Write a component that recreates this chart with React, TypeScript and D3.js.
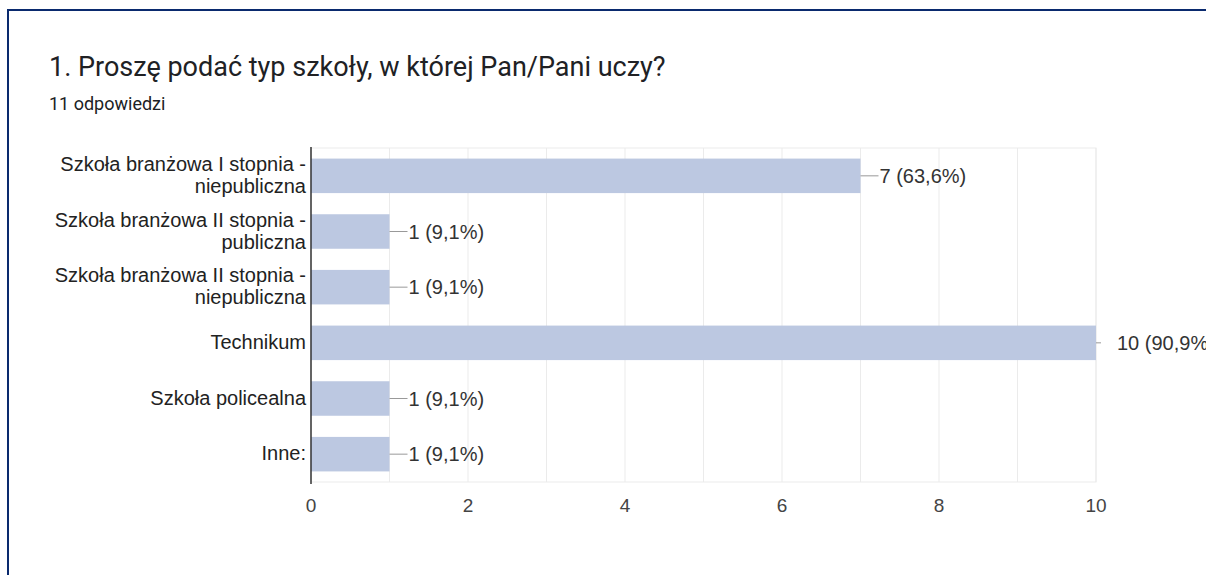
import { useEffect, useRef } from 'react'
import * as d3 from 'd3'

const categories = [
  ['Szkoła branżowa I stopnia -', 'niepubliczna'],
  ['Szkoła branżowa II stopnia -', 'publiczna'],
  ['Szkoła branżowa II stopnia -', 'niepubliczna'],
  ['Technikum'],
  ['Szkoła policealna'],
  ['Inne:'],
]
const counts = [7, 1, 1, 10, 1, 1]
const percents = ['63,6%', '9,1%', '9,1%', '90,9%', '9,1%', '9,1%']
const xTicks = [0, 2, 4, 6, 8, 10]

const W = 1206
const H = 575

export default function App() {
  const svgRef = useRef<SVGSVGElement>(null)

  useEffect(() => {
    if (!svgRef.current) return
    const svg = d3.select(svgRef.current)
    svg.selectAll('*').remove()

    const left = 311
    const right = 1096
    const top = 148
    const bottom = 482

    const x = d3.scaleLinear().domain([0, 10]).range([left, right])
    const keys = categories.map((_, i) => String(i))
    const y = d3
      .scaleBand()
      .domain(keys)
      .range([top, bottom])
      .paddingInner(0.38)
      .paddingOuter(0.19)

    // frame
    svg
      .append('rect')
      .attr('x', 8)
      .attr('y', 10)
      .attr('width', W + 20)
      .attr('height', H + 20)
      .attr('fill', 'white')
      .attr('stroke', '#0a2a6e')
      .attr('stroke-width', 2)

    // title
    svg
      .append('text')
      .attr('x', 49)
      .attr('y', 76)
      .attr('font-family', 'Roboto')
      .attr('font-size', 27)
      .attr('fill', '#202124')
      .text('1. Proszę podać typ szkoły, w której Pan/Pani uczy?')

    svg
      .append('text')
      .attr('x', 49)
      .attr('y', 110)
      .attr('font-family', 'Roboto')
      .attr('font-size', 18)
      .attr('fill', '#202124')
      .text('11 odpowiedzi')

    const g = svg.append('g').attr('font-family', 'Liberation Sans, Arial')

    // plot background border
    g.append('rect')
      .attr('x', left)
      .attr('y', top)
      .attr('width', right - left)
      .attr('height', bottom - top)
      .attr('fill', 'none')
      .attr('stroke', '#ebebeb')

    // grid lines every unit
    g.selectAll('.grid')
      .data(d3.range(1, 11))
      .enter()
      .append('line')
      .attr('x1', d => x(d))
      .attr('x2', d => x(d))
      .attr('y1', top)
      .attr('y2', bottom)
      .attr('stroke', '#ebebeb')

    // bars
    g.selectAll('.bar')
      .data(counts)
      .enter()
      .append('rect')
      .attr('x', x(0))
      .attr('y', (_, i) => y(keys[i])!)
      .attr('width', d => x(d) - x(0))
      .attr('height', y.bandwidth())
      .attr('fill', '#bcc8e1')

    // axis line
    g.append('line')
      .attr('x1', left)
      .attr('x2', left)
      .attr('y1', top - 1)
      .attr('y2', bottom + 2)
      .attr('stroke', '#333')
      .attr('stroke-width', 1.5)

    // value labels
    counts.forEach((d, i) => {
      const cy = y(keys[i])! + y.bandwidth() / 2
      const x0 = x(d)
      const wide = d === 10
      const lineEnd = wide ? x0 + 5 : x0 + 18
      const tx = wide ? x0 + 21 : x0 + 19
      g.append('line')
        .attr('x1', x0)
        .attr('x2', lineEnd)
        .attr('y1', cy)
        .attr('y2', cy)
        .attr('stroke', '#999')
      g.append('text')
        .attr('x', tx)
        .attr('y', cy + 7)
        .attr('font-size', 20)
        .attr('fill', '#333')
        .text(`${d} (${percents[i]})`)
    })

    // category labels
    categories.forEach((lines, i) => {
      const cy = y(keys[i])! + y.bandwidth() / 2
      const t = g
        .append('text')
        .attr('text-anchor', 'end')
        .attr('font-size', 20)
        .attr('fill', '#222')
      const lh = 22
      const start = cy + 7 - ((lines.length - 1) * lh) / 2 - 1
      lines.forEach((l, j) => {
        t.append('tspan')
          .attr('x', left - 5)
          .attr('y', start + j * lh)
          .text(l)
      })
    })

    // x tick labels
    g.selectAll('.tick')
      .data(xTicks)
      .enter()
      .append('text')
      .attr('x', d => x(d))
      .attr('y', 512)
      .attr('text-anchor', 'middle')
      .attr('font-size', 19)
      .attr('fill', '#444')
      .text(d => d)
  }, [])

  return (
    <svg
      ref={svgRef}
      width={W}
      height={H}
      style={{ position: 'absolute', left: 0, top: 0, background: 'white' }}
    />
  )
}
